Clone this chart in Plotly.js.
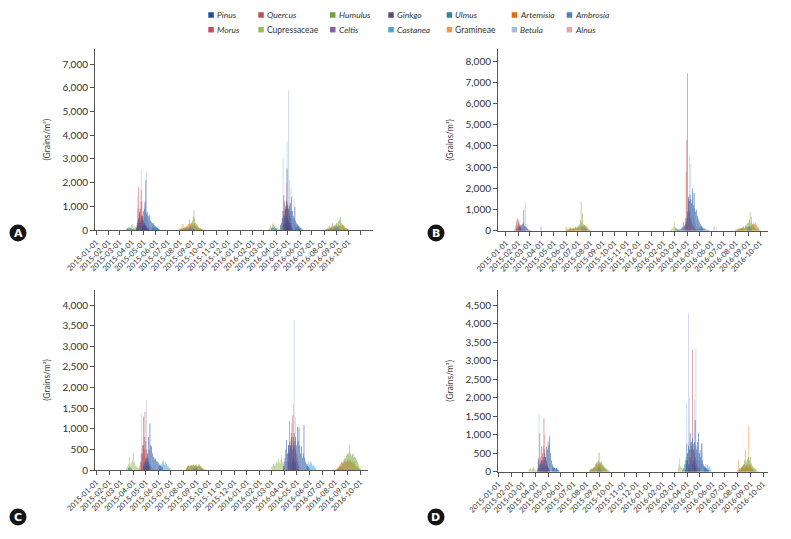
<!DOCTYPE html>
<html>
<head>
<meta charset="utf-8">
<script src="https://cdn.plot.ly/plotly-3.0.1.min.js"></script>
<style>html,body{margin:0;padding:0;background:#fff;}#chart{width:791px;height:539px;}</style>
</head>
<body>
<div id="chart"></div>
<script>
// ---------- categories / legend ----------
const TAXA = ['Pinus','Quercus','Humulus','Ginkgo','Ulmus','Artemisia','Ambrosia',
              'Morus','Cupressaceae','Celtis','Castanea','Gramineae','Betula','Alnus'];
const TAXA_COLORS = ['#1f4e9c','#c0504d','#77a03c','#604a7b','#31869b','#e46c0a','#4f81bd',
                     '#c9485b','#9bbb59','#8064a2','#4aa3d8','#f79646','#a9bcde','#e6a3a8'];
const UPRIGHT_TAXA = ['Cupressaceae','Gramineae'];
const X_TICK_LABELS = ['2015-01-01','2015-02-01','2015-03-01','2015-04-01','2015-05-01','2015-06-01',
  '2015-07-01','2015-08-01','2015-09-01','2015-10-01','2015-11-01','2015-12-01','2016-01-01',
  '2016-02-01','2016-03-01','2016-04-01','2016-05-01','2016-06-01','2016-07-01','2016-08-01',
  '2016-09-01','2016-10-01'];
const A_EXTRA_TICK = ['2016-11-01'];
const PANEL_LETTERS = ['A','B','C','D'];
const Y_TITLE = '(Grains/m³)';

// ---------- values (grains/m3, every 2nd day from the given start) ----------
// Panel A
const A_Cupressaceae_1 = [40,60,30,90,150,80,220,260,120,180,90,60,40,20,10];
const A_Ulmus_1 = [60,80,120,90,100,70,50,40,30,20];
const A_Betula_1 = [20,40,80,120,200,1400,300,500,900,400,700,300,600,400,1130,500,800,2460,600,300,200,150,100,80,60,40,20];
const A_Alnus_1 = [50,100,200,300,400,500,1200,2560,800,400,200,100,50];
const A_Morus_1 = [100,300,900,1830,700,400,300,500,600,300,200,100,50];
const A_Quercus_1 = [100,200,300,400,900,1700,1200,600,400,300,200,150,100,60,40];
const A_Pinus_1 = [100,200,400,500,770,300,600,400,500,800,900,1200,2110,700,750,600,500,650,400,350,300,250,300,200,150,120,100,80,60];
const A_Ginkgo_1 = [150,200,250,180,220,150,100,60];
const A_Celtis_1 = [100,150,120,180,150,100,60];
const A_Castanea_1 = [100,150,200,120,180,100,150,80,60,40,20];
const A_Humulus_2 = [20,30,40,30,50,60,80,60,90,120,100,130,150,200,180,300,400,560,850,500,300,250,200,150,120,90,80,50,40,30];
const A_Artemisia_2 = [0,10,20,40,250,80,100,120,150,180,200,250,450,300,260,280,240,200,300,250,200,180,150,100,80,60,40,30,20];
const A_Gramineae_2 = [50,80,100,60,80,100,120,90,80,60,50,40];
const A_Ambrosia_2 = [50,80,100,120,150,100,120,80,60,40];
const A_Cupressaceae_3 = [50,100,200,150,80,250,300,150,120,200,100,80,60,40,30];
const A_Ulmus_3 = [80,100,150,100,120,80,60,40];
const A_Betula_3 = [200,500,800,3030,600,900,700,1000,3730,1200,5915,1200,800,1800,600,500,400,1300,300,200,150,100,80,50];
const A_Alnus_3 = [400,800,1000,2000,600,500,400,2110,300,200];
const A_Quercus_3 = [300,600,1200,1000,1250,900,1100,800,600,500,300,200,100];
const A_Pinus_3 = [200,300,500,800,1480,600,900,1200,2600,1000,900,1000,1130,800,1400,800,600,500,985,400,300,250,200,150,100,80];
const A_Ginkgo_3 = [300,400,500,450,350,300,200,100];
const A_Morus_3 = [300,500,800,600,900,700,400,200];
const A_Castanea_3 = [100,150,200,120,150,180,100,80,60,40];
const A_Humulus_4 = [20,30,40,50,60,80,100,150,200,300,180,150,200,250,300,280,350,400,450,560,300,250,200,150,100,80,60,40,30,20];
const A_Artemisia_4 = [0,0,10,20,30,50,60,80,100,120,150,200,120,180,200,150,220,180,200,160,140,210,200,180,150,100,60,30,20,10];
const A_Gramineae_4 = [30,50,80,100,150,200,120,80,60,50,40];
const A_Ambrosia_4 = [60,80,120,100,150,120,80,60,40];
// Panel B
const B_Quercus_1 = [20,50,100,250,450,580,520,400,300,200,150,100,60,40,30,20];
const B_Morus_1 = [150,250,300,280,200,100,50];
const B_Pinus_1 = [50,80,100,150,200,250,270,300,350,975,250,200,150,100,80,60,40,30,20];
const B_Betula_1 = [400,200,1350,200,100];
const B_Betula_1b = [100,250,150];
const B_Humulus_2 = [30,40,50,60,80,100,120,100,80,150,120,100,200,150,180,220,250,300,500,1370,400,820,300,250,200,150,100,80,60,40,30];
const B_Artemisia_2 = [0,0,20,30,50,180,60,80,100,120,90,100,150,120,100,130,150,180,200,250,200,220,260,270,250,230,200,150,100,60,30];
const B_Gramineae_2 = [200,150,100,80,60,100,120,90,80,60,50,40];
const B_Ambrosia_2 = [80,100,150,120,100,80,60];
const B_Cupressaceae_3 = [50,80,100,150,420,200,150,100,80,60,50,40,30,20,20];
const B_Quercus_3 = [50,100,200,600,2780,4280,7420,1500,900,600,500,400,300,200,150,100,80,60,40,20];
const B_Pinus_3 = [20,30,50,60,80,100,150,200,420,250,300,400,600,900,1600,1400,1700,1500,1300,2000,1200,1760,1050,900,1000,700,600,500,400,300,250,200,150,120,100,80,60,50,40,30,20];
const B_Betula_3 = [100,200,300,600,1000,3520,800,3140,700,1500,600,1800,400,300,200,150,100,80,60,40,30,20];
const B_Betula_3b = [200,0,250,0,150];
const B_Alnus_3 = [200,400,600,300,200,100];
const B_Ulmus_3 = [50,80,100,60,40];
const B_Castanea_3 = [100,150,120,200,100,80,60];
const B_Humulus_4 = [20,30,40,60,80,100,120,100,150,180,200,150,250,300,200,350,400,500,865,400,660,300,250,200,150,100,80,60,40,20];
const B_Artemisia_4 = [0,10,20,30,50,80,100,120,100,150,120,100,150,180,200,160,220,250,200,230,260,300,350,320,300,350,280,200,150,100,50,30];
const B_Gramineae_4 = [50,80,100,120,80,60,100,80,60,40];
const B_Ambrosia_4 = [100,150,200,150,100,80];
// Panel C
const C_Cupressaceae_1 = [50,100,150,320,100,150,200,250,400,200,150,100,80,60,40,30,20];
const C_Ulmus_1 = [50,80,60,40,30];
const C_Betula_1 = [200,400,1350,300,600,400,800,500,1700,400,300,200,150,100,80,50];
const C_Morus_1 = [100,200,400,600,1290,500,300,200,100];
const C_Quercus_1 = [200,400,600,800,1410,700,500,300,200,150,100];
const C_Pinus_1 = [100,150,200,250,300,400,800,500,1130,600,570,400,320,300,250,280,220,200,180,150,120,100,80,60];
const C_Castanea_1 = [80,100,120,150,200,240,150,120,200,150,100,80,60,40];
const C_Ginkgo_1 = [100,150,200,150,100];
const C_Humulus_2 = [20,50,80,100,120,90,110,130,100,120,140,110,130,150,120,100,130,140,100,80,60,40,30,20,10];
const C_Artemisia_2 = [0,30,60,80,100,70,90,110,80,100,120,90,110,100,90,80,100,90,70,50,40,20,10];
const C_Ambrosia_2 = [40,60,50,40,30];
const C_Cupressaceae_3 = [80,100,160,120,100,150,200,180,280,200,150,250,360,200,150,100];
const C_Celtis_3 = [200,400,600,1190,300,200];
const C_Betula_3 = [300,500,1130,400,600,3640,500,1270,300,200,150,100];
const C_Alnus_3 = [300,500,800,1600,400,200];
const C_Quercus_3 = [200,400,600,900,700,1330,800,600,500,400,300,200,100];
const C_Pinus_3 = [100,200,300,500,730,400,600,500,700,600,800,500,600,900,700,800,600,1050,700,1030,600,400,570,300,400,1090,300,200,150,100,80,60];
const C_Castanea_3 = [100,150,200,120,180,200,150,100,120,80,60,40];
const C_Ginkgo_3 = [200,300,250,200,150];
const C_Humulus_4 = [10,20,30,40,60,80,100,150,200,250,300,280,350,400,380,420,620,400,350,380,400,300,320,300,250,200,150,100,50,30];
const C_Artemisia_4 = [0,20,50,80,120,150,200,180,150,200,220,180,200,250,220,200,250,230,200,180,150,200,150,100,80,60,40,20];
const C_Gramineae_4 = [30,60,80,100,80,60,50,40];
// Panel D
const D_Cupressaceae_1 = [50,80,100,60,80,120,100,60,40,30];
const D_Betula_1 = [50,0,0,0,0,100,300,1550,200,100,300,200,150,100,80,60,40];
const D_Morus_1 = [100,300,1035,400,675,300,200,150,100];
const D_Quercus_1 = [100,200,300,500,700,1440,600,400,300,200,100,80,50];
const D_Alnus_1 = [400,990,300,150];
const D_Pinus_1 = [50,360,200,150,250,300,200,400,300,500,400,675,600,810,700,960,500,300,200,150,120,100,80,100,60,50,40];
const D_Castanea_1 = [100,80,120,100,80,100,60,40];
const D_Ginkgo_1 = [150,200,150,100];
const D_Humulus_2 = [30,50,60,80,100,120,150,200,250,270,300,520,280,250,270,200,180,150,120,100,80,60,40,30,20];
const D_Artemisia_2 = [20,40,60,80,100,120,100,150,200,180,220,200,240,200,180,150,120,100,80,60,40,20];
const D_Gramineae_2 = [50,80,100,60,80,50,40];
const D_Ambrosia_2 = [60,100,120,80,60,40];
const D_Cupressaceae_3 = [100,200,360,150,100,80,60,50,40];
const D_Ulmus_3 = [50,100,200,300,400,765,300,200,100,50];
const D_Betula_3 = [200,1845,500,4290,1980,300,400,600,300,500,1950,400,3330,300,500,300,400,200,300,200,765,150,100,80,60,50,40,30,20];
const D_Quercus_3 = [100,200,400,600,800,3300,765,500,400,300,200,150,100,80];
const D_Pinus_3 = [50,200,300,500,700,600,1035,800,700,900,600,800,1395,700,600,800,1035,500,585,400,765,300,200,150,120,100,80,60,50];
const D_Alnus_3 = [300,500,800,400,300,200];
const D_Castanea_3 = [100,150,200,120,180,100,150,80,60];
const D_Ginkgo_3 = [200,300,250,150,100];
const D_Humulus_4 = [10,20,30,50,80,100,150,200,300,585,250,300,350,400,300,400,250,200,150,120,100,80,60,40,20];
const D_Artemisia_4 = [0,30,50,80,100,120,150,180,200,150,180,200,150,120,200,180,150,100,80,60,40,20];
const D_Gramineae_4 = [50,315,100,80,100,120,150,100,80,120,100,150,200,1235,150,100,80,60,40,20];

// registry: [panel, taxon, first date, values]
const SERIES = [
  ['A','Cupressaceae','2015-03-20',A_Cupressaceae_1],['A','Ulmus','2015-03-20',A_Ulmus_1],
  ['A','Betula','2015-04-05',A_Betula_1],['A','Alnus','2015-04-11',A_Alnus_1],
  ['A','Morus','2015-04-13',A_Morus_1],['A','Quercus','2015-04-15',A_Quercus_1],
  ['A','Pinus','2015-04-13',A_Pinus_1],['A','Ginkgo','2015-04-29',A_Ginkgo_1],
  ['A','Celtis','2015-04-25',A_Celtis_1],['A','Castanea','2015-05-23',A_Castanea_1],
  ['A','Humulus','2015-08-01',A_Humulus_2],['A','Artemisia','2015-08-01',A_Artemisia_2],
  ['A','Gramineae','2015-08-01',A_Gramineae_2],['A','Ambrosia','2015-08-21',A_Ambrosia_2],
  ['A','Cupressaceae','2016-03-14',A_Cupressaceae_3],['A','Ulmus','2016-03-20',A_Ulmus_3],
  ['A','Betula','2016-04-13',A_Betula_3],['A','Alnus','2016-04-21',A_Alnus_3],
  ['A','Quercus','2016-04-19',A_Quercus_3],['A','Pinus','2016-04-13',A_Pinus_3],
  ['A','Ginkgo','2016-04-25',A_Ginkgo_3],['A','Morus','2016-04-21',A_Morus_3],
  ['A','Castanea','2016-05-21',A_Castanea_3],
  ['A','Humulus','2016-08-05',A_Humulus_4],['A','Artemisia','2016-08-05',A_Artemisia_4],
  ['A','Gramineae','2016-08-05',A_Gramineae_4],['A','Ambrosia','2016-08-25',A_Ambrosia_4],

  ['B','Quercus','2015-01-20',B_Quercus_1],['B','Morus','2015-01-28',B_Morus_1],
  ['B','Pinus','2015-01-28',B_Pinus_1],['B','Betula','2015-02-15',B_Betula_1],
  ['B','Betula','2015-03-28',B_Betula_1b],
  ['B','Humulus','2015-06-01',B_Humulus_2],['B','Artemisia','2015-06-01',B_Artemisia_2],
  ['B','Gramineae','2015-06-01',B_Gramineae_2],['B','Ambrosia','2015-07-11',B_Ambrosia_2],
  ['B','Cupressaceae','2016-02-20',B_Cupressaceae_3],['B','Quercus','2016-03-21',B_Quercus_3],
  ['B','Pinus','2016-03-07',B_Pinus_3],['B','Betula','2016-03-27',B_Betula_3],
  ['B','Betula','2016-06-05',B_Betula_3b],['B','Alnus','2016-03-29',B_Alnus_3],
  ['B','Ulmus','2016-03-01',B_Ulmus_3],['B','Castanea','2016-05-01',B_Castanea_3],
  ['B','Humulus','2016-08-01',B_Humulus_4],['B','Artemisia','2016-08-01',B_Artemisia_4],
  ['B','Gramineae','2016-08-01',B_Gramineae_4],['B','Ambrosia','2016-08-31',B_Ambrosia_4],

  ['C','Cupressaceae','2015-03-16',C_Cupressaceae_1],['C','Ulmus','2015-03-20',C_Ulmus_1],
  ['C','Betula','2015-04-17',C_Betula_1],['C','Morus','2015-04-17',C_Morus_1],
  ['C','Quercus','2015-04-21',C_Quercus_1],['C','Pinus','2015-04-25',C_Pinus_1],
  ['C','Castanea','2015-06-02',C_Castanea_1],['C','Ginkgo','2015-05-01',C_Ginkgo_1],
  ['C','Humulus','2015-08-05',C_Humulus_2],['C','Artemisia','2015-08-05',C_Artemisia_2],
  ['C','Ambrosia','2015-08-25',C_Ambrosia_2],
  ['C','Cupressaceae','2016-03-01',C_Cupressaceae_3],['C','Celtis','2016-04-07',C_Celtis_3],
  ['C','Betula','2016-04-14',C_Betula_3],['C','Alnus','2016-04-16',C_Alnus_3],
  ['C','Quercus','2016-04-11',C_Quercus_3],['C','Pinus','2016-03-29',C_Pinus_3],
  ['C','Castanea','2016-05-25',C_Castanea_3],['C','Ginkgo','2016-04-20',C_Ginkgo_3],
  ['C','Humulus','2016-08-05',C_Humulus_4],['C','Artemisia','2016-08-05',C_Artemisia_4],
  ['C','Gramineae','2016-08-05',C_Gramineae_4],

  ['D','Cupressaceae','2015-03-16',D_Cupressaceae_1],['D','Betula','2015-03-26',D_Betula_1],
  ['D','Morus','2015-04-07',D_Morus_1],['D','Quercus','2015-04-11',D_Quercus_1],
  ['D','Alnus','2015-04-21',D_Alnus_1],['D','Pinus','2015-04-05',D_Pinus_1],
  ['D','Castanea','2015-05-11',D_Castanea_1],['D','Ginkgo','2015-04-25',D_Ginkgo_1],
  ['D','Humulus','2015-08-10',D_Humulus_2],['D','Artemisia','2015-08-10',D_Artemisia_2],
  ['D','Gramineae','2015-08-10',D_Gramineae_2],['D','Ambrosia','2015-08-28',D_Ambrosia_2],
  ['D','Cupressaceae','2016-03-10',D_Cupressaceae_3],['D','Ulmus','2016-03-21',D_Ulmus_3],
  ['D','Betula','2016-03-29',D_Betula_3],['D','Quercus','2016-04-04',D_Quercus_3],
  ['D','Pinus','2016-03-27',D_Pinus_3],['D','Alnus','2016-04-01',D_Alnus_3],
  ['D','Castanea','2016-05-12',D_Castanea_3],['D','Ginkgo','2016-04-14',D_Ginkgo_3],
  ['D','Humulus','2016-08-01',D_Humulus_4],['D','Artemisia','2016-08-01',D_Artemisia_4],
  ['D','Gramineae','2016-08-01',D_Gramineae_4]
];

// ---------- layout constants ----------
const W = 791, H = 539;
const DRAW_ORDER = ['Betula','Alnus','Celtis','Cupressaceae','Gramineae','Morus','Quercus',
                    'Ginkgo','Ulmus','Castanea','Pinus','Artemisia','Humulus','Ambrosia'];
const PANELS = {
  A: {xd:[95,373], yd:[230,49.3], xr:['2014-12-29','2016-12-03'], ymax:7634, dtick:1000, extraTick:true, badge:[18,233]},
  B: {xd:[498,768], yd:[230.7,49.3], xr:['2014-12-12','2016-10-21'], ymax:8553, dtick:1000, extraTick:false, badge:[436,233]},
  C: {xd:[95,368], yd:[470,290], xr:['2014-12-29','2016-10-20'], ymax:4364, dtick:500, extraTick:false, badge:[18,517]},
  D: {xd:[498,768], yd:[471.7,290], xr:['2014-12-31','2016-10-13'], ymax:4905, dtick:500, extraTick:false, badge:[436,517]}
};
const LEG_COL_X = [208.3,258.3,330,388.3,446.7,511.7,566.7];
const LEG_ROW_Y = [15,29.7];
const FONT = 'Lato, "Noto Sans", sans-serif';

function addDays(s, n) {
  const d = new Date(s + 'T00:00:00Z');
  d.setUTCDate(d.getUTCDate() + n);
  return d.toISOString().slice(0, 10);
}
const px = x => x / W;
const py = y => 1 - y / H;

const traces = [];
const layout = {
  width: W, height: H, autosize: false,
  margin: {l:0, r:0, t:0, b:0},
  paper_bgcolor: '#fff', plot_bgcolor: '#fff',
  showlegend: false, hovermode: false, barmode: 'overlay',
  font: {family: FONT, color: '#333'},
  shapes: [], annotations: []
};

PANEL_LETTERS.forEach((p, k) => {
  const cfg = PANELS[p];
  const sfx = k === 0 ? '' : String(k + 1);
  DRAW_ORDER.forEach(taxon => {
    const xs = [], ys = [];
    SERIES.filter(s => s[0] === p && s[1] === taxon).forEach(s => {
      s[3].forEach((v, i) => { if (v > 0) { xs.push(addDays(s[2], 2 * i)); ys.push(v); } });
    });
    if (!xs.length) return;
    traces.push({
      type: 'bar', name: taxon, x: xs, y: ys,
      xaxis: 'x' + sfx, yaxis: 'y' + sfx,
      width: 1.4 * 86400000,
      marker: {color: TAXA_COLORS[TAXA.indexOf(taxon)], line: {width: 0}},
      opacity: 0.88, showlegend: false
    });
  });
  const xa = {
    domain: [px(cfg.xd[0]), px(cfg.xd[1])], range: cfg.xr, type: 'date',
    anchor: 'y' + sfx, tickmode: 'array', tickvals: X_TICK_LABELS, ticktext: X_TICK_LABELS, tickangle: -45,
    ticks: 'outside', ticklen: 4, tickcolor: '#555', showline: true, linecolor: '#555', linewidth: 1,
    showgrid: false, zeroline: false, tickfont: {size: 7.5, color: '#333'}, fixedrange: true
  };
  if (cfg.extraTick) {
    xa.minor = {tickmode: 'array', tickvals: A_EXTRA_TICK, ticks: 'outside', ticklen: 4, tickcolor: '#555', showgrid: false};
  }
  layout['xaxis' + sfx] = xa;
  layout['yaxis' + sfx] = {
    domain: [py(cfg.yd[0]), py(cfg.yd[1])], range: [0, cfg.ymax], anchor: 'x' + sfx,
    tick0: 0, dtick: cfg.dtick, tickformat: ',d',
    ticks: 'outside', ticklen: 4, tickcolor: '#555', showline: true, linecolor: '#555', linewidth: 1,
    showgrid: false, zeroline: false, tickfont: {size: 10, color: '#333'}, fixedrange: true,
    title: {text: Y_TITLE, font: {size: 8.5, color: '#444'}, standoff: 10}
  };
  // panel badge
  const r = 8.5, bx = cfg.badge[0], by = cfg.badge[1];
  layout.shapes.push({type: 'circle', xref: 'paper', yref: 'paper',
    x0: px(bx - r), x1: px(bx + r), y0: py(by + r), y1: py(by - r),
    fillcolor: '#151515', line: {width: 0}});
  layout.annotations.push({xref: 'paper', yref: 'paper', x: px(bx), y: py(by + 0.5),
    text: '<b>' + p + '</b>', showarrow: false, xanchor: 'center', yanchor: 'middle',
    font: {family: '"DejaVu Sans", sans-serif', size: 11, color: '#fff'}});
});

// legend (two rows x seven columns)
TAXA.forEach((t, i) => {
  const row = Math.floor(i / 7), col = i % 7;
  const x = LEG_COL_X[col], y = LEG_ROW_Y[row];
  layout.shapes.push({type: 'rect', xref: 'paper', yref: 'paper',
    x0: px(x), x1: px(x + 5.5), y0: py(y + 2.75), y1: py(y - 2.75),
    fillcolor: TAXA_COLORS[i], line: {width: 0}});
  const label = UPRIGHT_TAXA.includes(t) ? t : '<i>' + t + '</i>';
  layout.annotations.push({xref: 'paper', yref: 'paper', x: px(x + 6.5), y: py(y),
    text: label, showarrow: false, xanchor: 'left', yanchor: 'middle',
    font: {size: 8.5, color: '#333'}});
});

Plotly.newPlot('chart', traces, layout, {displayModeBar: false, staticPlot: true});
</script>
</body>
</html>
